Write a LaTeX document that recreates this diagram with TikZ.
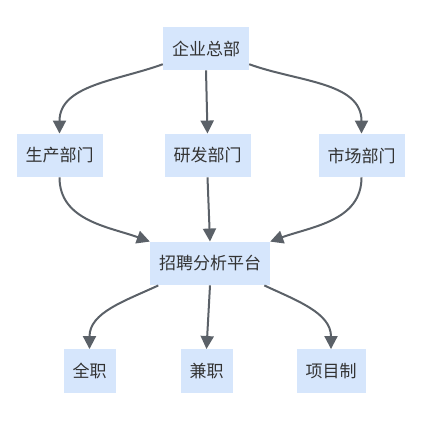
\documentclass[tikz,border=0pt]{standalone}
\usepackage{fontspec}
\setmainfont{Noto Sans CJK SC}
\usepackage{tikz}
\usetikzlibrary{calc,positioning,arrows.meta}
\definecolor{boxblue}{HTML}{D6E6FC}
\definecolor{linegray}{HTML}{5B6168}
\definecolor{textgray}{HTML}{333333}

\begin{document}
\begin{tikzpicture}[x=1pt,y=-1pt]
    \tikzstyle{unit}=[fill=boxblue,draw=none,text=textgray,inner xsep=9pt,
                      minimum height=43.5pt,font=\fontsize{17}{20}\selectfont]
    \tikzstyle{flow}=[draw=linegray,line width=2pt,
                      -{Triangle[length=13pt,width=13pt]}]

    \useasboundingbox (0,0) rectangle (425,420);

    % top level
    \node[unit] (hq) at (206,48.5) {企业总部};

    % departments
    \node[unit] (prod) at (59.5,155.5) {生产部门};
    \node[unit] (rnd) at (207.5,155.5) {研发部门};
    \node[unit] (mkt) at (361.5,155.5) {市场部门};

    % platform
    \node[unit] (plat) at (210,263.5) {招聘分析平台};

    % job types
    \node[unit] (full) at (89.5,371) {全职};
    \node[unit] (part) at (206.5,371) {兼职};
    \node[unit] (proj) at (331,371) {项目制};

    \draw[flow] (hq.200) to[out=200,in=90] (prod.north);
    \draw[flow] (hq.south) -- (rnd.north);
    \draw[flow] (hq.-20) to[out=-20,in=90] (mkt.north);

    \draw[flow] (prod.south) to[out=-90,in=160] (plat.160);
    \draw[flow] (rnd.south) -- (plat.north);
    \draw[flow] (mkt.south) to[out=-90,in=20] (plat.20);

    \draw[flow] (plat.203) to[out=205,in=90] (full.north);
    \draw[flow] (plat.south) -- (part.north);
    \draw[flow] (plat.-22) to[out=-25,in=90] (proj.north);
\end{tikzpicture}
\end{document}
